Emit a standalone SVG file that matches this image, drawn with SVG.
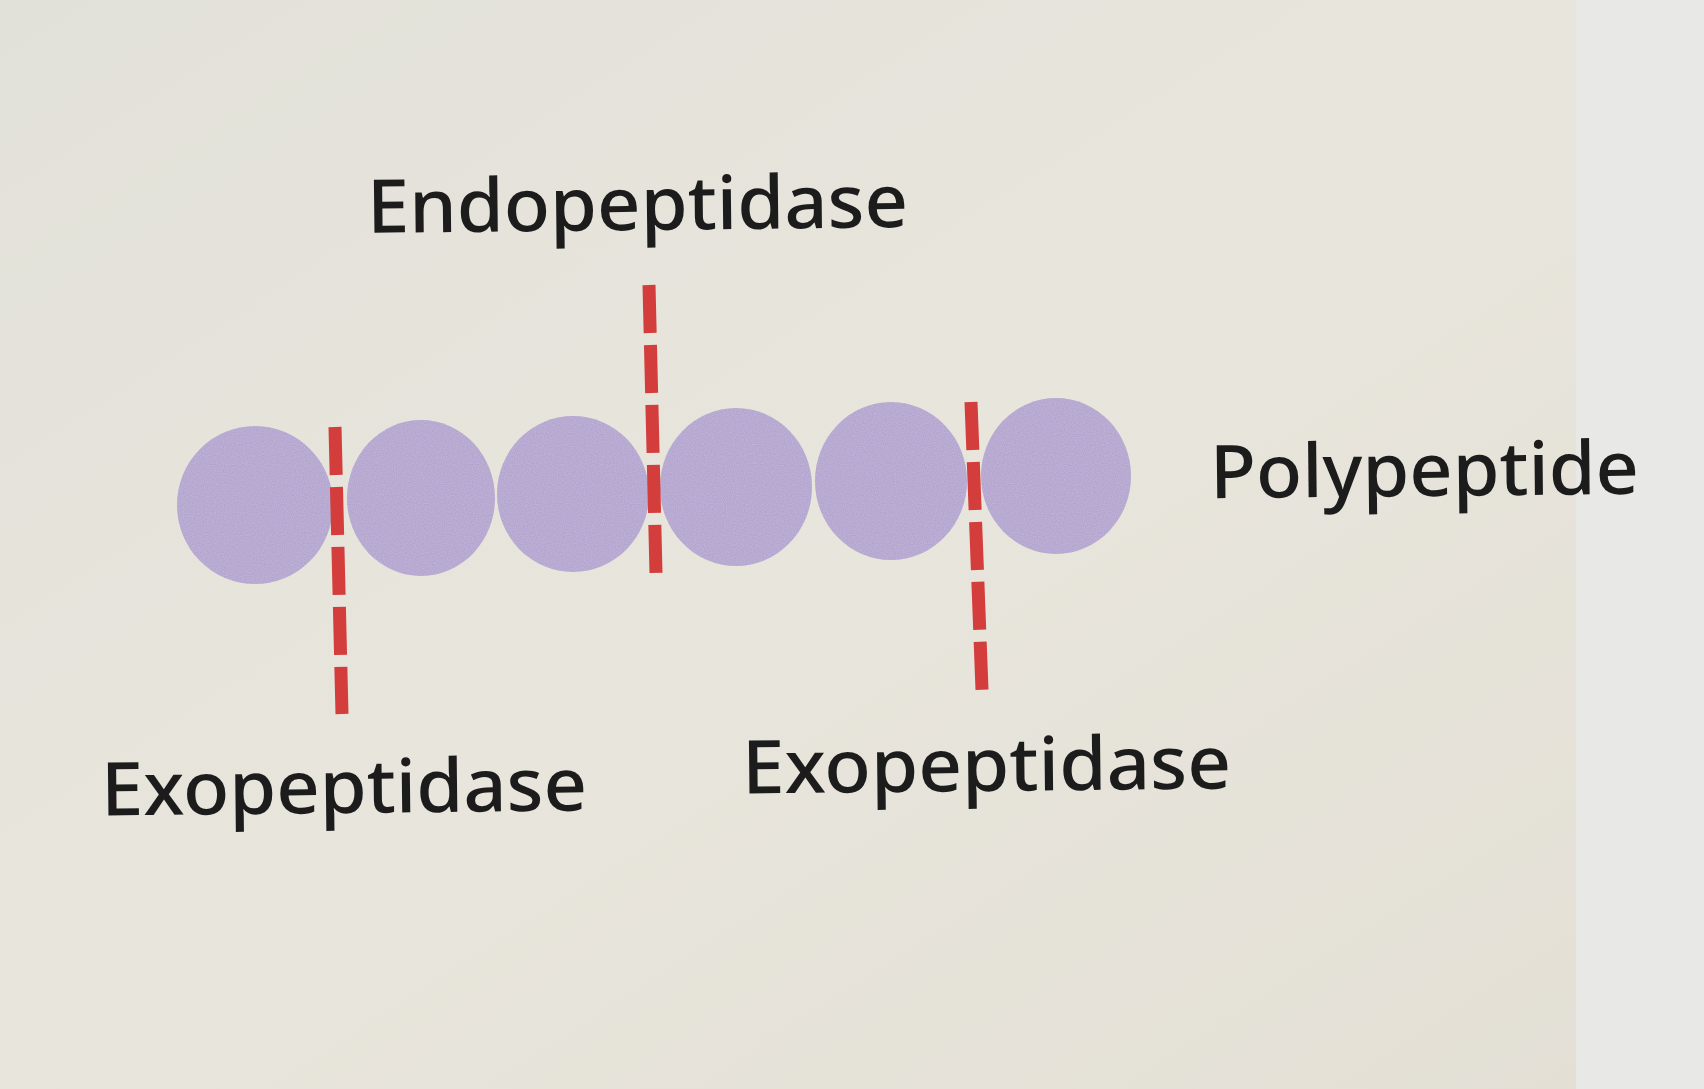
<svg xmlns="http://www.w3.org/2000/svg" width="1704" height="1089" viewBox="0 0 1704 1089">
  <defs>
    <linearGradient id="bg" x1="0" y1="0" x2="1" y2="1">
      <stop offset="0" stop-color="#e2e1d9"/>
      <stop offset="0.5" stop-color="#e8e5dc"/>
      <stop offset="1" stop-color="#e3dfd5"/>
    </linearGradient>
    <filter id="grain" x="0" y="0" width="1" height="1">
      <feTurbulence type="fractalNoise" baseFrequency="0.9" numOctaves="1" seed="3" result="n"/>
      <feColorMatrix in="n" type="matrix" values="0 0 0 0 1  0 0 0 0 1  0 0 0 0 1  0 0 0 0.25 0" result="w"/>
      <feComposite in="w" in2="SourceGraphic" operator="in" result="wc"/>
      <feMerge><feMergeNode in="SourceGraphic"/><feMergeNode in="wc"/></feMerge>
    </filter>
  </defs>
  <style>
    .bead { fill: #ab9acb; }
    .cut { fill: none; stroke: #d33d3c; stroke-width: 13; stroke-dasharray: 48 12; }
    .label { font-family: "Noto Sans", "Liberation Sans", sans-serif; font-size: 74px; font-weight: 500; fill: #1c1c1c; }
  </style>
  <rect x="0" y="0" width="1704" height="1089" fill="url(#bg)"/>
  <rect x="1576" y="0" width="128" height="1089" fill="#e8e9e7"/>

  <g id="polypeptide" filter="url(#grain)">
    <ellipse class="bead" cx="255" cy="505" rx="78" ry="79"/>
    <ellipse class="bead" cx="421" cy="498" rx="74" ry="78"/>
    <ellipse class="bead" cx="573" cy="494" rx="76" ry="78"/>
    <ellipse class="bead" cx="736" cy="487" rx="76" ry="79"/>
    <ellipse class="bead" cx="891" cy="481" rx="76" ry="79"/>
    <ellipse class="bead" cx="1056" cy="476" rx="75" ry="78"/>
  </g>

  <g id="connectors">
    <line class="cut" x1="335" y1="427" x2="342" y2="714"/>
    <line class="cut" x1="649" y1="285" x2="656" y2="573"/>
    <line class="cut" x1="971" y1="402" x2="982" y2="690"/>
  </g>

  <g id="label-endopeptidase">
    <text class="label" x="367" y="230" textLength="541" lengthAdjust="spacingAndGlyphs" transform="rotate(-0.6 637 210)">Endopeptidase</text>
  </g>
  <g id="label-polypeptide">
    <text class="label" x="1210" y="496" textLength="429" lengthAdjust="spacingAndGlyphs" transform="rotate(-0.6 1425 475)">Polypeptide</text>
  </g>
  <g id="label-exopeptidase-left">
    <text class="label" x="101" y="813" textLength="486" lengthAdjust="spacingAndGlyphs" transform="rotate(-0.6 344 790)">Exopeptidase</text>
  </g>
  <g id="label-exopeptidase-right">
    <text class="label" x="742" y="791" textLength="489" lengthAdjust="spacingAndGlyphs" transform="rotate(-0.6 986 770)">Exopeptidase</text>
  </g>
</svg>
